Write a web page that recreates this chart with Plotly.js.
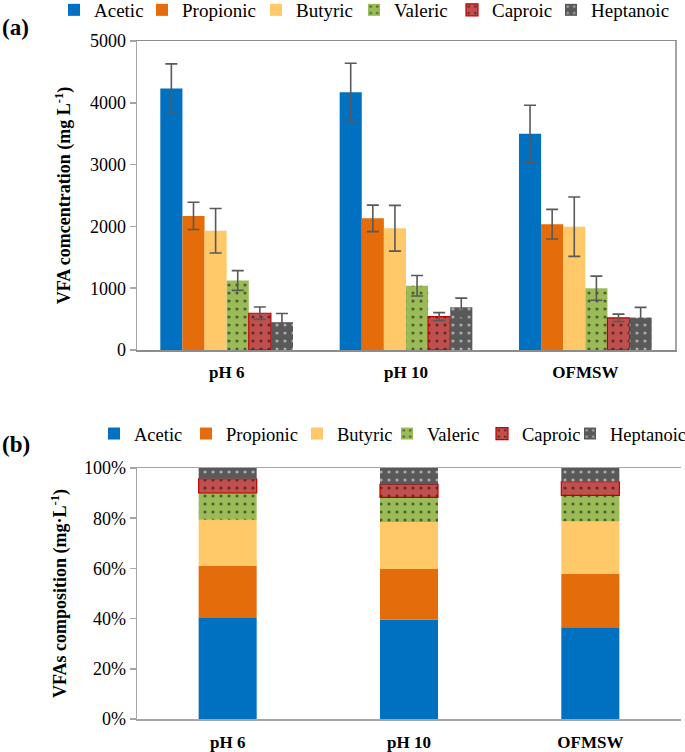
<!DOCTYPE html>
<html>
<head>
<meta charset="utf-8">
<script src="https://cdn.plot.ly/plotly-3.0.1.min.js"></script>
<style>html,body{margin:0;padding:0;background:#fff;}#chart{width:685px;height:752px;}</style>
</head>
<body>
<div id="chart"></div>
<script>
// ---- data ----
var categories = ['pH 6', 'pH 10', 'OFMSW'];
var seriesNames = ['Acetic', 'Propionic', 'Butyric', 'Valeric', 'Caproic', 'Heptanoic'];
var acetic    = [4230, 4170, 3500];
var propionic = [2170, 2130, 2035];
var butyric   = [1930, 1970, 1995];
var valeric   = [1125, 1040, 1000];
var caproic   = [595, 540, 520];
var heptanoic = [450, 690, 525];
var aceticErr    = [400, 470, 460];
var propionicErr = [220, 215, 240];
var butyricErr   = [360, 370, 480];
var valericErr   = [160, 165, 195];
var caproicErr   = [100, 65, 60];
var heptanoicErr = [140, 150, 165];
var yTicksTop = [0, 1000, 2000, 3000, 4000, 5000];
var yTicksBottom = [0, 20, 40, 60, 80, 100];

var values = [acetic, propionic, butyric, valeric, caproic, heptanoic];
var errors = [aceticErr, propionicErr, butyricErr, valericErr, caproicErr, heptanoicErr];

// ---- styles ----
var colors = ['#0070C0', '#E46C0A', '#FFC868', '#9BBB59', '#C0504D', '#595959'];
var borders = [null, null, null, null, '#C00000', null];
var patterns = [null, null, null,
  {shape: '.', fgcolor: '#000000', bgcolor: '#9BBB59', size: 8, solidity: 0.12, fillmode: 'overlay'},
  {shape: '.', fgcolor: '#000000', bgcolor: '#C0504D', size: 8, solidity: 0.12, fillmode: 'overlay'},
  {shape: '.', fgcolor: '#FFFFFF', bgcolor: '#595959', size: 8, solidity: 0.12, fillmode: 'overlay'}];
// legend entry widths (px) for the two legends
var legendWidthsTop = [43, 69, 53, 53, 54, 80];
var legendWidthsBottom = [47, 66, 45, 50, 43, 78];

function markerFor(i) {
  var m = {color: colors[i], line: {width: borders[i] ? 1.2 : 0, color: borders[i] || colors[i]}};
  if (patterns[i]) m.pattern = patterns[i];
  return m;
}

var totals = categories.map(function (c, j) {
  return values.reduce(function (s, arr) { return s + arr[j]; }, 0);
});

var traces = [];
// (a) grouped bars with error bars
seriesNames.forEach(function (name, i) {
  traces.push({
    type: 'bar', name: name, x: categories, y: values[i],
    xaxis: 'x', yaxis: 'y', legend: 'legend', legendwidth: legendWidthsTop[i],
    marker: markerFor(i),
    error_y: {type: 'data', array: errors[i], visible: true, color: '#595959', thickness: 1.6, width: 6},
    hoverinfo: 'x+y+name'
  });
});
// (b) 100% stacked bars (percentages derived from the same values)
var cumulative = categories.map(function () { return 0; });
seriesNames.forEach(function (name, i) {
  var pct = values[i].map(function (v, j) { return v / totals[j] * 100; });
  var base = cumulative.slice();
  cumulative = cumulative.map(function (c, j) { return c + pct[j]; });
  traces.push({
    type: 'bar', name: name, x: categories, y: pct, base: base,
    xaxis: 'x2', yaxis: 'y2', legend: 'legend2', legendwidth: legendWidthsBottom[i],
    offsetgroup: 'stack', width: 0.32, offset: -0.16,
    marker: markerFor(i), hoverinfo: 'x+y+name'
  });
});

var serif = '"Liberation Serif", "Times New Roman", serif';
var axisGray = '#A6A6A6';
var W = 685, H = 752, ML = 4, MR = 4, MT = 41, MB = 33;
var PW = W - ML - MR, PH = H - MT - MB;
function px2x(p) { return (p - ML) / PW; }
function px2y(p) { return (H - MB - p) / PH; }

var layout = {
  width: W, height: H,
  margin: {l: ML, r: MR, t: MT, b: MB, autoexpand: false},
  paper_bgcolor: '#ffffff', plot_bgcolor: '#ffffff',
  font: {family: serif, color: '#000000', size: 18},
  barmode: 'group', bargap: 0.26, bargroupgap: 0,
  showlegend: true,
  xaxis: {
    domain: [px2x(137), px2x(675)], anchor: 'y', type: 'category',
    showline: true, linecolor: '#8C8C8C', linewidth: 1.5, mirror: true,
    ticks: '', showgrid: false, ticklabelstandoff: 6,
    tickfont: {family: serif, size: 17, weight: 'bold', color: '#000000'}
  },
  yaxis: {
    domain: [px2y(350), px2y(41)], anchor: 'x', range: [0, 5000],
    tickvals: yTicksTop, ticktext: yTicksTop.map(String),
    showline: true, linecolor: axisGray, linewidth: 1.5, mirror: true,
    ticks: 'outside', ticklen: 6, tickcolor: axisGray, tickwidth: 1.5,
    showgrid: false, zeroline: false,
    tickfont: {family: serif, size: 18, color: '#000000'},
    title: {text: 'VFA comcentration (mg L<sup>-1</sup>)', font: {family: serif, size: 18, weight: 'bold', color: '#000000'}, standoff: 14}
  },
  xaxis2: {
    domain: [px2x(137), px2x(681)], anchor: 'y2', type: 'category',
    showline: true, linecolor: axisGray, linewidth: 1.5, mirror: true,
    ticks: '', showgrid: false, ticklabelstandoff: 7,
    tickfont: {family: serif, size: 17, weight: 'bold', color: '#000000'}
  },
  yaxis2: {
    domain: [px2y(719), px2y(468)], anchor: 'x2', range: [0, 100],
    tickvals: yTicksBottom, ticktext: yTicksBottom.map(function (v) { return v + '%'; }),
    showline: true, linecolor: axisGray, linewidth: 1.5,
    ticks: 'outside', ticklen: 6, tickcolor: axisGray, tickwidth: 1.5,
    showgrid: false, zeroline: false,
    tickfont: {family: serif, size: 18, color: '#000000'},
    title: {text: 'VFAs composition (mg·L<sup>-1</sup>)', font: {family: serif, size: 18, weight: 'bold', color: '#000000'}, standoff: 12}
  },
  legend: {
    orientation: 'h', xref: 'container', yref: 'container',
    x: 54 / W, xanchor: 'left', y: 1 - 10 / H, yanchor: 'middle',
    font: {family: serif, size: 19, color: '#000000'}, itemwidth: 30, bgcolor: 'rgba(0,0,0,0)',
    traceorder: 'normal'
  },
  legend2: {
    orientation: 'h', xref: 'container', yref: 'container',
    x: 94 / W, xanchor: 'left', y: 1 - 434 / H, yanchor: 'middle',
    font: {family: serif, size: 18.5, color: '#000000'}, itemwidth: 30, bgcolor: 'rgba(0,0,0,0)',
    traceorder: 'normal'
  },
  annotations: [
    {text: '<b>(a)</b>', xref: 'paper', yref: 'paper', x: px2x(0), y: px2y(27),
     xanchor: 'left', yanchor: 'middle', showarrow: false, font: {family: serif, size: 23, color: '#000000'}},
    {text: '<b>(b)</b>', xref: 'paper', yref: 'paper', x: px2x(0), y: px2y(444),
     xanchor: 'left', yanchor: 'middle', showarrow: false, font: {family: serif, size: 23, color: '#000000'}}
  ]
};

Plotly.newPlot('chart', traces, layout, {displayModeBar: false, staticPlot: true});
</script>
</body>
</html>
